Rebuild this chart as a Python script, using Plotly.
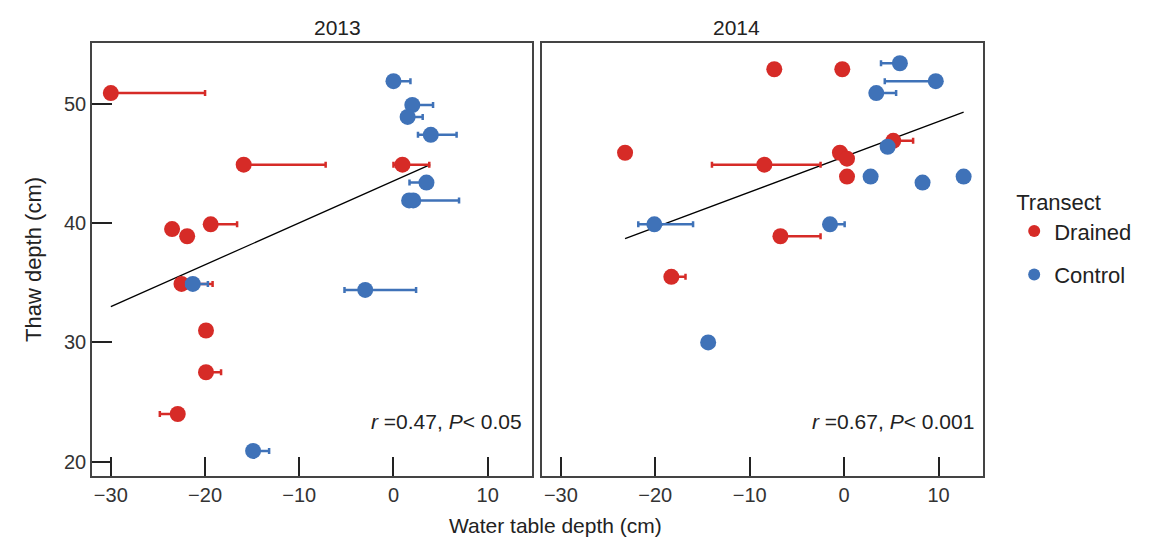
import plotly.graph_objects as go

RED = "#d62b27"
BLUE = "#3f72b8"

# 2013 Drained
d13_x = [-30, -15.9, 0.95, -19.4, -23.5, -21.9, -22.5, -19.9, -19.9, -22.9]
d13_y = [50.9, 44.9, 44.9, 39.9, 39.5, 38.9, 34.9, 31.0, 27.5, 24.0]
d13_ep = [10.0, 8.7, 2.85, 2.8, 0, 0, 3.3, 0, 1.6, 0]
d13_em = [0, 0, 0.95, 0, 0, 0, 0, 0, 0, 1.9]
# 2013 Control
c13_x = [0.0, 2.0, 1.5, 3.96, 3.5, 1.66, 2.1, -3.0, -21.3, -14.9]
c13_y = [51.9, 49.9, 48.9, 47.4, 43.4, 41.9, 41.9, 34.4, 34.9, 20.9]
c13_ep = [1.8, 2.2, 1.6, 2.74, 0, 5.3, 0, 5.4, 1.6, 1.7]
c13_em = [0, 0, 0, 1.36, 1.8, 0, 0, 2.2, 0.7, 0]
# 2014 Drained
d14_x = [-7.4, -0.2, -23.2, -8.45, -0.45, 0.3, 0.3, 5.2, -6.75, -18.3]
d14_y = [52.9, 52.9, 45.9, 44.9, 45.9, 45.4, 43.9, 46.9, 38.9, 35.5]
d14_ep = [0, 0, 0, 5.95, 0, 0, 0, 2.1, 4.25, 1.5]
d14_em = [0, 0, 0, 5.55, 0, 0, 0, 0, 0, 0]
# 2014 Control
c14_x = [5.9, 9.7, 3.4, 4.6, 2.8, 8.3, 12.65, -20.1, -1.5, -14.4]
c14_y = [53.4, 51.9, 50.9, 46.4, 43.9, 43.4, 43.9, 39.9, 39.9, 30.0]
c14_ep = [0, 0, 2.1, 0, 0, 0, 0, 4.1, 1.55, 0]
c14_em = [2.0, 5.4, 0, 0, 0, 0, 0, 1.7, 0, 0]
# regression lines
fit13_x = [-30, 3.9]
fit13_y = [33.0, 44.9]
fit14_x = [-23.2, 12.65]
fit14_y = [38.7, 49.3]

fig = go.Figure()

def pts(x, y, ep, em, color, name, xa, ya, show):
    fig.add_trace(go.Scatter(
        x=x, y=y, mode="markers", name=name, xaxis=xa, yaxis=ya,
        showlegend=show, legendgroup=name,
        marker=dict(color=color, size=16),
        error_x=dict(type="data", array=ep, arrayminus=em, symmetric=False,
                     color=color, thickness=2.5, width=3)))

fig.add_trace(go.Scatter(x=fit13_x, y=fit13_y, mode="lines", line=dict(color="black", width=1.3),
                         showlegend=False, xaxis="x", yaxis="y"))
fig.add_trace(go.Scatter(x=fit14_x, y=fit14_y, mode="lines", line=dict(color="black", width=1.3),
                         showlegend=False, xaxis="x2", yaxis="y2"))
pts(d13_x, d13_y, d13_ep, d13_em, RED, "Drained", "x", "y", True)
pts(c13_x, c13_y, c13_ep, c13_em, BLUE, "Control", "x", "y", True)
pts(d14_x, d14_y, d14_ep, d14_em, RED, "Drained", "x2", "y2", False)
pts(c14_x, c14_y, c14_ep, c14_em, BLUE, "Control", "x2", "y2", False)

ax = dict(range=[-32, 14.7], tickvals=[-30, -20, -10, 0, 10],
          ticktext=["\u221230", "\u221220", "\u221210", "0", "10"],
          ticks="inside", ticklen=19, tickwidth=1.5, tickcolor="#222",
          showline=True, mirror=True, linecolor="#444", linewidth=1.5,
          showgrid=False, zeroline=False, tickfont=dict(size=20, color="#333"))
ya = dict(range=[18.8, 55.1], tickvals=[20, 30, 40, 50],
          showline=True, mirror=True, linecolor="#444", linewidth=1.5,
          showgrid=False, zeroline=False, tickfont=dict(size=20, color="#333"))

fig.update_layout(
    width=1175, height=550, plot_bgcolor="white", paper_bgcolor="white",
    margin=dict(l=84, r=200, t=35, b=82),
    font=dict(family="Liberation Sans, Arial", color="#222"),
    xaxis=dict(ax, domain=[0, 0.4938], anchor="y"),
    xaxis2=dict(ax, domain=[0.505, 1], anchor="y2"),
    yaxis=dict(ya, anchor="x", ticks="inside", ticklen=20, tickwidth=1.5, tickcolor="#222",
               title=dict(text="Thaw depth (cm)", font=dict(size=22), standoff=16)),
    yaxis2=dict(ya, anchor="x2", showticklabels=False, ticks=""),
    legend=dict(x=1.035, y=0.68, xanchor="left", yanchor="top",
                title=dict(text="Transect", font=dict(size=22)), font=dict(size=22),
                tracegroupgap=12, itemsizing="constant"),
    annotations=[
        dict(text="2013", x=0.2469, y=1.0, xref="paper", yref="paper", yanchor="bottom",
             showarrow=False, font=dict(size=21), yshift=2),
        dict(text="2014", x=0.7525, y=1.0, xref="paper", yref="paper", yanchor="bottom",
             showarrow=False, font=dict(size=21), yshift=2),
        dict(text="Water table depth (cm)", x=0.52, y=0, xref="paper", yref="paper",
             yanchor="top", yshift=-36, showarrow=False, font=dict(size=21)),
        dict(text="<i>r</i> =0.47, <i>P</i>< 0.05", x=0.485, y=0.125, xref="paper", yref="paper",
             xanchor="right", yanchor="middle", showarrow=False, font=dict(size=21)),
        dict(text="<i>r</i> =0.67, <i>P</i>< 0.001", x=0.992, y=0.125, xref="paper", yref="paper",
             xanchor="right", yanchor="middle", showarrow=False, font=dict(size=21)),
    ],
)
fig.write_html("out.html")
